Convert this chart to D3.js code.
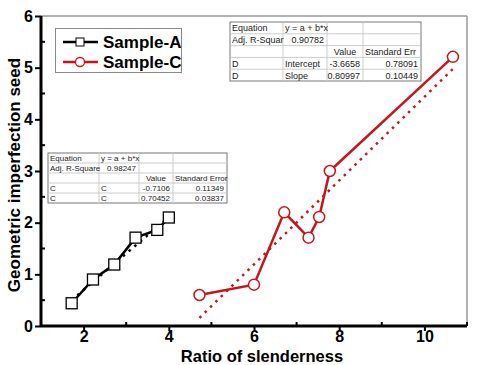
<!DOCTYPE html>
<html><head><meta charset="utf-8">
<script src="https://cdn.jsdelivr.net/npm/d3@7"></script>
<style>body{margin:0;background:#fff}svg{display:block}text{font-family:"Liberation Sans",Arial,sans-serif}</style>
</head><body><svg id="c" width="479" height="365"></svg>
<script>
// ---- data ----
const sampleAX = [1.72, 2.22, 2.72, 3.22, 3.73, 4.0];
const sampleAY = [0.44, 0.90, 1.19, 1.71, 1.86, 2.10];
const sampleCX = [4.72, 6.0, 6.71, 7.28, 7.53, 7.78, 10.67];
const sampleCY = [0.60, 0.80, 2.20, 1.71, 2.11, 3.00, 5.21];
const fitA = [-0.7106, 0.70452];   // intercept, slope
const fitC = [-3.6658, 0.80997];
const xTicks = [2, 4, 6, 8, 10];
const yTicks = [0, 1, 2, 3, 4, 5, 6];
const seriesNames = ["Sample-A", "Sample-C"];
const tableA = [
  ["Equation", "y = a + b*x", "", ""],
  ["Adj. R-Square", "0.98247", "", ""],
  ["", "", "Value", "Standard Error"],
  ["C", "C", "-0.7106", "0.11349"],
  ["C", "C", "0.70452", "0.03837"]
];
const tableC = [
  ["Equation", "y = a + b*x", "", ""],
  ["Adj. R-Squar", "0.90782", "", ""],
  ["", "", "Value", "Standard Err"],
  ["D", "Intercept", "-3.6658", "0.78091"],
  ["D", "Slope", "0.80997", "0.10449"]
];

const svg = d3.select("#c");
const L = 41, R = 467, T = 16, B = 326;
const x = d3.scaleLinear().domain([1, 11]).range([L, R]);
const y = d3.scaleLinear().domain([0, 6]).range([B, T]);
const red = "#c4161c";

// frame top/right
svg.append("line").attr("x1", L).attr("x2", R).attr("y1", T).attr("y2", T).attr("stroke", "#999").attr("stroke-width", 1.5);
svg.append("line").attr("x1", R).attr("x2", R).attr("y1", T).attr("y2", B).attr("stroke", "#999").attr("stroke-width", 1.5);

// axes
const fontTick = "bold 16px 'Liberation Sans', Arial, sans-serif";
const gx = svg.append("g").attr("transform", `translate(0,${B})`)
  .call(d3.axisBottom(x).tickValues(xTicks).tickSize(5).tickPadding(0).tickFormat(d3.format("d")));
const gy = svg.append("g").attr("transform", `translate(${L},0)`)
  .call(d3.axisLeft(y).tickValues(yTicks).tickSize(6).tickPadding(2).tickFormat(d3.format("d")));
[gx, gy].forEach(g => {
  g.select(".domain").attr("stroke", "#000").attr("stroke-width", 3);
  g.selectAll(".tick line").attr("stroke", "#000").attr("stroke-width", 2);
  g.selectAll(".tick text").style("font", fontTick).attr("fill", "#000");
});
gx.select(".domain").attr("d", `M${L},0H${R}`);
gy.select(".domain").attr("d", `M0,${B}V${T}`);
// minor ticks inward
svg.append("g").selectAll("line").data([3, 5, 7, 9, 11]).join("line")
  .attr("x1", d => x(d)).attr("x2", d => x(d)).attr("y1", B).attr("y2", B - 4)
  .attr("stroke", "#000").attr("stroke-width", 2);
svg.append("g").selectAll("line").data([0.5, 1.5, 2.5, 3.5, 4.5, 5.5]).join("line")
  .attr("y1", d => y(d)).attr("y2", d => y(d)).attr("x1", L).attr("x2", L + 4)
  .attr("stroke", "#000").attr("stroke-width", 2);

// labels
svg.append("text").attr("x", 262).attr("y", 361.5).attr("text-anchor", "middle")
  .style("font", "bold 16.5px 'Liberation Sans', Arial, sans-serif").text("Ratio of slenderness");
svg.append("text").attr("transform", `translate(20,175) rotate(-90)`).attr("text-anchor", "middle")
  .style("font", "bold 17px 'Liberation Sans', Arial, sans-serif").text("Geometric imperfection seed");

// fit lines (dotted)
function fitLine(coef, xs, color) {
  const x0 = d3.min(xs), x1 = d3.max(xs);
  svg.append("line").attr("x1", x(x0)).attr("y1", y(coef[0] + coef[1] * x0))
    .attr("x2", x(x1)).attr("y2", y(coef[0] + coef[1] * x1))
    .attr("stroke", color).attr("stroke-width", 2.5).attr("stroke-dasharray", "2.5,5");
}
fitLine(fitC, sampleCX, red);
fitLine(fitA, sampleAX, "#000");

const line = d3.line().x(d => x(d[0])).y(d => y(d[1]));
const dA = sampleAX.map((v, i) => [v, sampleAY[i]]);
const dC = sampleCX.map((v, i) => [v, sampleCY[i]]);
svg.append("path").datum(dA).attr("d", line).attr("fill", "none").attr("stroke", "#000").attr("stroke-width", 2.5);
svg.append("path").datum(dC).attr("d", line).attr("fill", "none").attr("stroke", red).attr("stroke-width", 2.5);
svg.append("g").selectAll("rect").data(dA).join("rect")
  .attr("x", d => x(d[0]) - 5.5).attr("y", d => y(d[1]) - 5.5).attr("width", 11).attr("height", 11)
  .attr("fill", "#fff").attr("stroke", "#000").attr("stroke-width", 1.3);
svg.append("g").selectAll("circle").data(dC).join("circle")
  .attr("cx", d => x(d[0])).attr("cy", d => y(d[1])).attr("r", 5.5)
  .attr("fill", "#fff").attr("stroke", red).attr("stroke-width", 1.5);

// legend
const lg = svg.append("g");
lg.append("rect").attr("x", 55.5).attr("y", 28.5).attr("width", 126).attr("height", 44).attr("fill", "#fff").attr("stroke", "#888").attr("stroke-width", 1);
seriesNames.forEach((n, i) => {
  const cy = 42 + i * 20, col = i === 0 ? "#000" : red;
  lg.append("line").attr("x1", 63).attr("x2", 98).attr("y1", cy).attr("y2", cy).attr("stroke", col).attr("stroke-width", 2.5);
  if (i === 0) lg.append("rect").attr("x", 76).attr("y", cy - 4).attr("width", 8).attr("height", 8).attr("fill", "#fff").attr("stroke", "#000").attr("stroke-width", 1);
  else lg.append("circle").attr("cx", 80).attr("cy", cy).attr("r", 4.5).attr("fill", "#fff").attr("stroke", red).attr("stroke-width", 1.3);
  lg.append("text").attr("x", 103).attr("y", cy + 6).style("font", "bold 17px 'Liberation Sans', Arial, sans-serif").text(n);
});

// tables
function drawTable(rows, cols, top, rh, fs) {
  const g = svg.append("g");
  const w = cols[cols.length - 1] - cols[0], h = rh * rows.length;
  g.append("rect").attr("x", cols[0]).attr("y", top).attr("width", w).attr("height", h).attr("fill", "#fff").attr("stroke", "#777").attr("stroke-width", 1);
  for (let i = 1; i < rows.length; i++)
    g.append("line").attr("x1", cols[0]).attr("x2", cols[cols.length - 1]).attr("y1", top + i * rh).attr("y2", top + i * rh).attr("stroke", "#ccc");
  for (let j = 1; j < cols.length - 1; j++)
    g.append("line").attr("x1", cols[j]).attr("x2", cols[j]).attr("y1", top).attr("y2", top + h).attr("stroke", "#ccc");
  rows.forEach((r, i) => r.forEach((t, j) => {
    if (!t) return;
    const num = /^-?\d/.test(t);
    const isVal = t === "Value";
    const tx = num ? cols[j + 1] - 3 : (isVal ? (cols[j] + cols[j + 1]) / 2 : cols[j] + 2);
    g.append("text").attr("x", tx).attr("y", top + i * rh + rh - 2.5)
      .attr("text-anchor", num ? "end" : (isVal ? "middle" : "start"))
      .attr("fill", "#222").style("font-size", fs + "px").text(t);
  }));
}
drawTable(tableC, [230, 283, 327, 363, 421], 22, 11.8, 9);
drawTable(tableA, [48, 99, 139, 173, 227], 153, 10, 8);
</script></body></html>
